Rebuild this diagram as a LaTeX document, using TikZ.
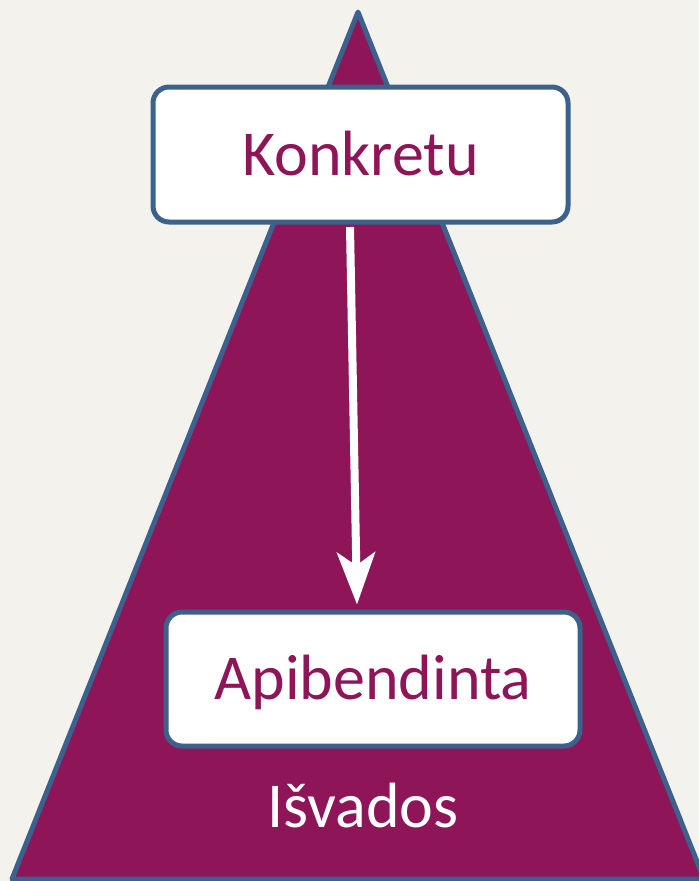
\documentclass[tikz,border=0pt]{standalone}
\usepackage{fontspec}
\setmainfont{Carlito}
\usetikzlibrary{arrows.meta}
\definecolor{bg}{HTML}{F4F2ED}
\definecolor{plum}{HTML}{8E1558}
\definecolor{edge}{HTML}{3B618C}
\tikzset{
  stepbox/.style={draw=edge, line width=5pt, fill=white, rounded corners=16pt,
    text=plum, font=\fontsize{64}{70}\selectfont, inner sep=0pt,
    text height=41pt, text depth=0pt},
}
\begin{document}
\begin{tikzpicture}[x=1pt,y=-1pt]
\useasboundingbox (0,0) rectangle (699,881);
\fill[bg] (0,0) rectangle (699,881);
\begin{scope}
\clip (0,0) rectangle (699,881);
\draw[edge, fill=plum, line width=5pt, line join=round] (358,12) -- (12,879) -- (704,879) -- cycle;
\end{scope}
\node[stepbox, minimum width=415pt, minimum height=135pt] (k) at (360.5,154.5) {Konkretu};
\node[stepbox, minimum width=414pt, minimum height=134pt] (a) at (373,679) {Apibendinta};
\node[text=white, font=\fontsize{64}{70}\selectfont, anchor=base] (i) at (363,827) {Išvados};
\draw[white, line width=8pt, -{Stealth[length=52pt, width=38pt, inset=13pt]}]
  ([xshift=-10.5pt, yshift=-2.5pt]k.south) -- ([xshift=-16pt, yshift=5pt]a.north);
\end{tikzpicture}
\end{document}
